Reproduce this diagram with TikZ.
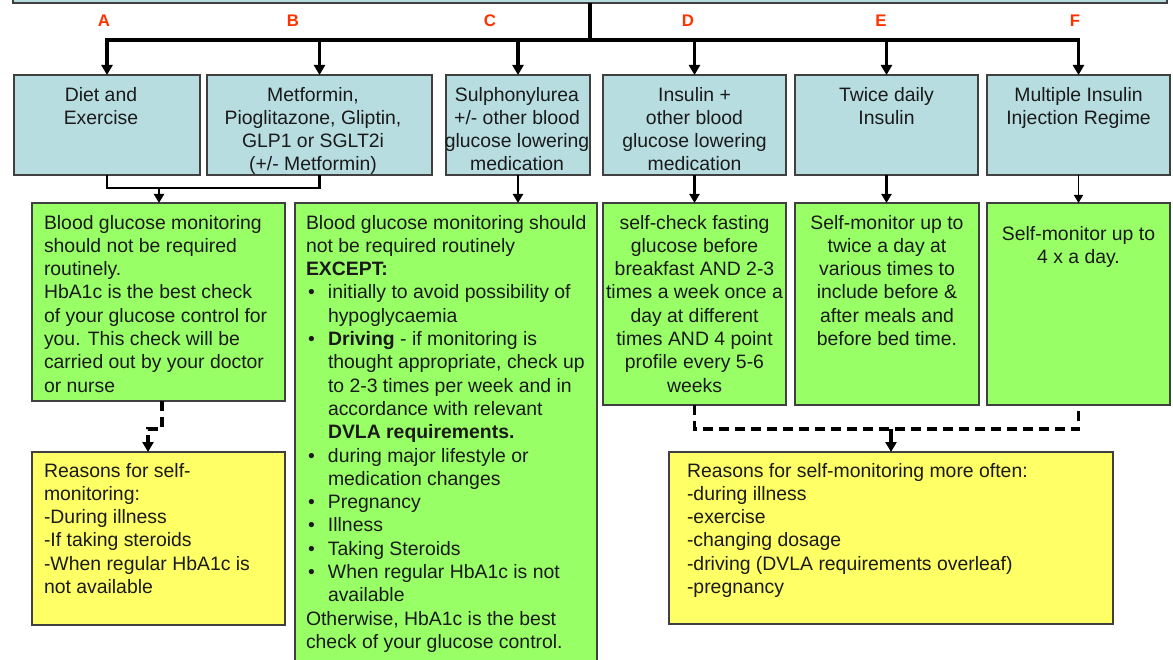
\documentclass[tikz,border=0pt]{standalone}
\usepackage{fontspec}
\setmainfont{Liberation Sans}
\usetikzlibrary{arrows.meta}
\definecolor{boxblue}{HTML}{B7DDE1}
\definecolor{boxgreen}{HTML}{99FF66}
\definecolor{boxyellow}{HTML}{FFFF66}
\definecolor{labelred}{HTML}{FF3300}
\definecolor{edgegray}{HTML}{404040}
\definecolor{txtcol}{HTML}{1A1A1A}
\newcommand{\gbul}{\makebox[22pt][l]{\hspace{2pt}\textbullet}}
\newcommand{\gind}{\hspace*{22pt}}
\begin{document}
\begin{tikzpicture}[x=1pt,y=-1pt,
  box/.style={draw=edgegray, line width=1.3pt, inner sep=0pt, outer sep=0pt},
  bluebox/.style={box, fill=boxblue, minimum height=100pt},
  greenbox/.style={box, fill=boxgreen},
  yellowbox/.style={box, fill=boxyellow},
  txt/.style={inner sep=0pt, outer sep=0pt, text=txtcol, font=\fontsize{19.4}{23.3}\selectfont},
  ctxt/.style={txt, align=center, anchor=north},
  ltxt/.style={txt, align=left, anchor=north west},
  lbl/.style={text=labelred, font=\fontsize{16.8}{20}\selectfont\bfseries, inner sep=0pt},
  mainline/.style={line width=3.5pt, line join=miter, -{Triangle[width=11pt,length=10pt]}},
  midline/.style={line width=2.4pt, -{Triangle[width=10pt,length=9pt]}},
  thinline/.style={line width=1.6pt, -{Triangle[width=9pt,length=8pt]}},
  joinline/.style={line width=2.2pt},
  dashline/.style={line width=3.5pt, dash pattern=on 10pt off 6pt},
  dasharrow/.style={line width=3.5pt, dash pattern=on 10pt off 6pt, -{Triangle[width=11pt,length=10pt]}},
  shortarrow/.style={line width=3.5pt, -{Triangle[width=11pt,length=10pt]}}
]
\clip (0,0) rectangle (1173,660);

% top box (partly visible)
\node[box, fill=boxblue, minimum width=1154pt, minimum height=33pt] (top) at (590,-13.5) {};

% labels
\node[lbl] (la) at (104,21) {A};
\node[lbl] (lb) at (293,21) {B};
\node[lbl] (lc) at (490,21) {C};
\node[lbl] (ld) at (688,21) {D};
\node[lbl] (le) at (881,21) {E};
\node[lbl] (lf) at (1075,21) {F};

% row 1 boxes
\node[bluebox, minimum width=186pt] (a) at (107,125) {};
\node[bluebox, minimum width=225pt] (b) at (319.5,125) {};
\node[bluebox, minimum width=144pt] (c) at (518,125) {};
\node[bluebox, minimum width=183pt] (d) at (694.5,125) {};
\node[bluebox, minimum width=183pt] (e) at (886.5,125) {};
\node[bluebox, minimum width=183pt] (f) at (1078.5,125) {};

\node[ctxt] (ta) at (101,87) {Diet and\\Exercise};
\node[ctxt] (tb) at (313,87) {Metformin,\\Pioglitazone, Gliptin,\\GLP1 or SGLT2i\\(+/- Metformin)};
\node[ctxt] (tc) at (517,87) {Sulphonylurea\\+/- other blood\\glucose lowering\\medication};
\node[ctxt] (td) at (694.5,87) {Insulin +\\other blood\\glucose lowering\\medication};
\node[ctxt] (te) at (886.5,87) {Twice daily\\Insulin};
\node[ctxt] (tf) at (1078.5,87) {Multiple Insulin\\Injection Regime};

% row 2 boxes
\node[greenbox, minimum width=253pt, minimum height=198pt] (g1) at (158.5,302) {};
\node[greenbox, minimum width=302pt, minimum height=477pt] (g2) at (446,441.5) {};
\node[greenbox, minimum width=183pt, minimum height=202pt] (g3) at (694.5,304) {};
\node[greenbox, minimum width=184pt, minimum height=202pt] (g4) at (887,304) {};
\node[greenbox, minimum width=183pt, minimum height=202pt] (g5) at (1078.5,304) {};

% yellow boxes
\node[yellowbox, minimum width=253pt, minimum height=173pt] (y1) at (158.5,538.5) {};
\node[yellowbox, minimum width=444pt, minimum height=172pt] (y2) at (891,538) {};

\node[ltxt] (tg1) at (44,215) {Blood glucose monitoring\\should not be required\\routinely.\\HbA1c is the best check\\of your glucose control for\\you. This check will be\\carried out by your doctor\\or nurse};
\node[ltxt] (tg2) at (306,215) {Blood glucose monitoring should\\
not be required routinely\\
\textbf{EXCEPT:}\\
\gbul initially to avoid possibility of\\
\gind hypoglycaemia\\
\gbul \textbf{Driving} - if monitoring is\\
\gind thought appropriate, check up\\
\gind to 2-3 times per week and in\\
\gind accordance with relevant\\
\gind \textbf{DVLA requirements.}\\
\gbul during major lifestyle or\\
\gind medication changes\\
\gbul Pregnancy\\
\gbul Illness\\
\gbul Taking Steroids\\
\gbul When regular HbA1c is not\\
\gind available\\
Otherwise, HbA1c is the best\\
check of your glucose control.};
\node[ctxt] (tg3) at (694.5,215) {self-check fasting\\glucose before\\breakfast AND 2-3\\times a week once a\\day at different\\times AND 4 point\\profile every 5-6\\weeks};
\node[ctxt] (tg4) at (887,215) {Self-monitor up to\\twice a day at\\various times to\\include before \&\\after meals and\\before bed time.};
\node[ctxt] (tg5) at (1078.5,226) {Self-monitor up to\\4 x a day.};

\node[ltxt] (ty1) at (44,463) {Reasons for self-\\monitoring:\\-During illness\\-If taking steroids\\-When regular HbA1c is\\not available};
\node[ltxt] (ty2) at (687,463) {Reasons for self-monitoring more often:\\-during illness\\-exercise\\-changing dosage\\-driving (DVLA requirements overleaf)\\-pregnancy};

% connectors from top
\draw[mainline] (top.south) -- (590,40) -| (a.north);
\draw[mainline] (top.south) -- (590,40) -| (b.north);
\draw[mainline] (top.south) -- (590,40) -| (c.north);
\draw[mainline] (top.south) -- (590,40) -| (d.north);
\draw[mainline] (top.south) -- (590,40) -| (e.north);
\draw[mainline] (top.south) -- (590,40) -| (f.north);

% A/B join
\coordinate (ab) at (159,188);
\draw[joinline] (a.south) |- (ab) -| (b.south);
\draw[midline] (ab) -- (ab |- g1.north);

% row1 -> row2
\draw[midline] (c.south) -- (c.south |- g2.north);
\draw[midline] (d.south) -- (g3.north);
\draw[midline] (e.south) -- (e.south |- g4.north);
\draw[thinline] (f.south) -- (g5.north);

% dashed connectors
\draw[dasharrow] ([xshift=3.5pt]g1.south) |- (148,429) -- ([xshift=-10.5pt]y1.north);
\draw[dashline] (g3.south) |- (1078.5,429) -- (g5.south);
\draw[shortarrow] (y2.north |- 0,429) -- (y2.north);
\end{tikzpicture}
\end{document}
